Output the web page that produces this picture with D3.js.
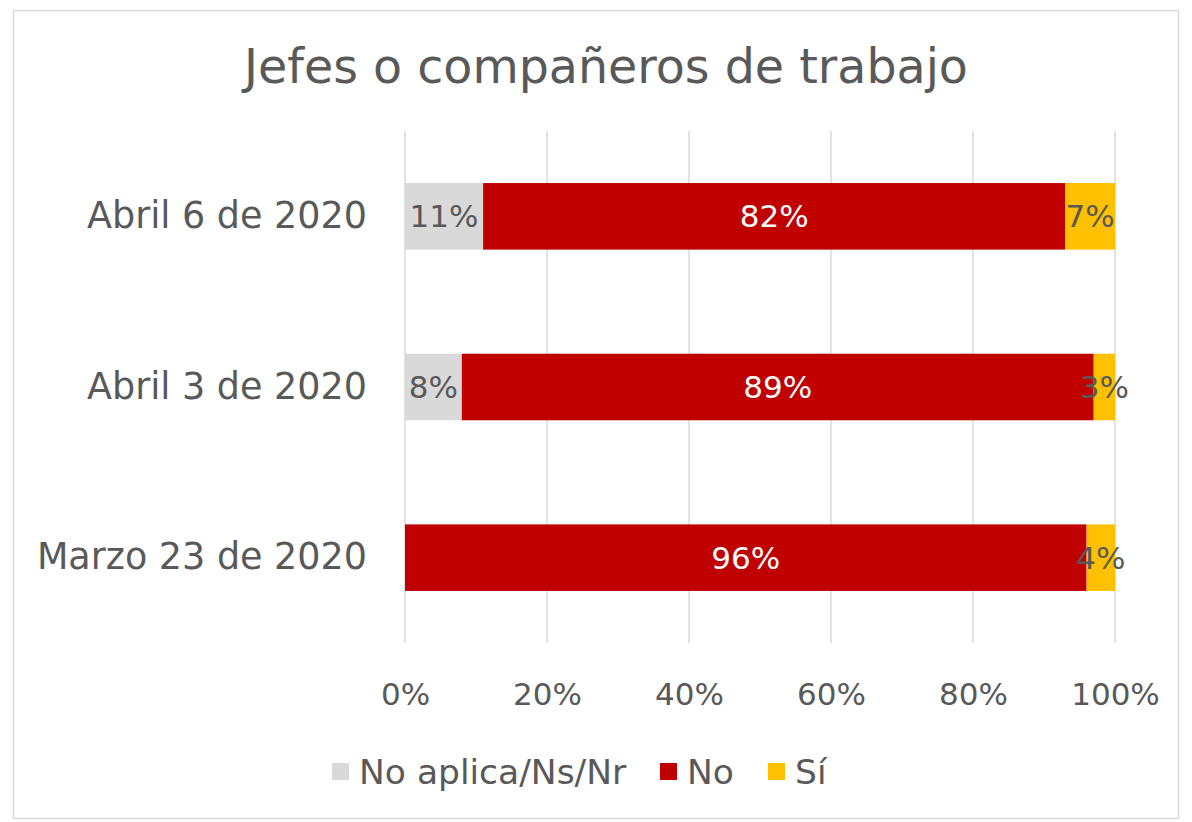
<!DOCTYPE html>
<html>
<head>
<meta charset="utf-8">
<script src="https://cdn.jsdelivr.net/npm/d3@7"></script>
<style>
  html, body { margin: 0; padding: 0; background: #ffffff; }
  svg { display: block; }
  text { font-family: "DejaVu Sans", sans-serif; fill: #595959; }
</style>
</head>
<body>
<svg id="chart" width="1192" height="822"></svg>
<script>
// Survey dates, top to bottom
const categories = ["Abril 6 de 2020", "Abril 3 de 2020", "Marzo 23 de 2020"];
// Share of answers per date (percent)
const noAplica = [11, 8, 0];
const no = [82, 89, 96];
const si = [7, 3, 4];
const seriesNames = ["No aplica/Ns/Nr", "No", "Sí"];
const tickValues = [0, 20, 40, 60, 80, 100];
const title = "Jefes o compañeros de trabajo";

const colors = ["#d9d9d9", "#c00000", "#ffc000"];
const labelColors = ["#595959", "#ffffff", "#595959"];

const svg = d3.select("#chart");

// chart frame
svg.append("rect")
  .attr("x", 13.5).attr("y", 10.5)
  .attr("width", 1165).attr("height", 808)
  .attr("fill", "#ffffff")
  .attr("stroke", "#d9d9d9").attr("stroke-width", 1.5);

svg.append("text")
  .attr("x", 606).attr("y", 83)
  .attr("text-anchor", "middle")
  .style("font-size", "47.5px")
  .text(title);

const x = d3.scaleLinear().domain([0, 100]).range([405, 1115]);
const y = d3.scaleBand().domain(categories).range([131, 643])
  .paddingInner(0.61).paddingOuter(0.305);

// vertical gridlines
svg.append("g").selectAll("line")
  .data(tickValues)
  .join("line")
  .attr("x1", d => x(d)).attr("x2", d => x(d))
  .attr("y1", 131).attr("y2", 643)
  .attr("stroke", "#d9d9d9").attr("stroke-width", 1.5);

// stacked data
const rows = categories.map((c, i) => ({ cat: c, "No aplica/Ns/Nr": noAplica[i], "No": no[i], "Sí": si[i] }));
const stacked = d3.stack().keys(seriesNames)(rows);

const layers = svg.append("g").selectAll("g")
  .data(stacked)
  .join("g")
  .attr("fill", (d, i) => colors[i]);

layers.selectAll("rect")
  .data(d => d)
  .join("rect")
  .attr("x", d => x(d[0]))
  .attr("width", d => x(d[1]) - x(d[0]))
  .attr("y", d => y(d.data.cat))
  .attr("height", y.bandwidth());

// value labels
const labelLayers = svg.append("g").selectAll("g")
  .data(stacked)
  .join("g");

labelLayers.each(function(layer, li) {
  d3.select(this).selectAll("text")
    .data(layer.filter(d => d[1] - d[0] > 0))
    .join("text")
    .attr("x", d => x((d[0] + d[1]) / 2))
    .attr("y", d => y(d.data.cat) + y.bandwidth() / 2)
    .attr("dy", "0.36em")
    .attr("text-anchor", "middle")
    .style("font-size", "31px")
    .style("fill", labelColors[li])
    .text(d => (d[1] - d[0]) + "%");
});

// category axis
const yAxis = svg.append("g")
  .attr("transform", "translate(405,0)")
  .call(d3.axisLeft(y).tickSize(0).tickPadding(38));
yAxis.select(".domain").remove();
yAxis.selectAll("text")
  .style("font-size", "36.5px")
  .style("fill", "#595959")
  .style("font-family", '"DejaVu Sans", sans-serif');

// value axis
const xAxis = svg.append("g")
  .attr("transform", "translate(0,643)")
  .call(d3.axisBottom(x).tickValues(tickValues).tickSize(0).tickPadding(40).tickFormat(d => d + "%"));
xAxis.select(".domain").remove();
xAxis.selectAll("text")
  .style("font-size", "31px")
  .style("fill", "#595959")
  .style("font-family", '"DejaVu Sans", sans-serif');

// legend
const legendX = [332, 660, 768];
const legend = svg.append("g").selectAll("g")
  .data(seriesNames)
  .join("g")
  .attr("transform", (d, i) => `translate(${legendX[i]},772)`);
legend.append("rect")
  .attr("x", 0).attr("y", -9)
  .attr("width", 17).attr("height", 17)
  .attr("fill", (d, i) => colors[i]);
legend.append("text")
  .attr("x", 27).attr("y", 0)
  .attr("dy", "0.36em")
  .style("font-size", "34.5px")
  .text(d => d);
</script>
</body>
</html>
